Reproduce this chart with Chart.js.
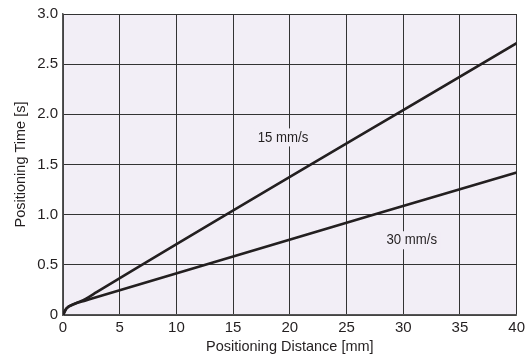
<!DOCTYPE html>
<html>
<head>
<meta charset="utf-8">
<script src="https://cdn.jsdelivr.net/npm/chart.js@4"></script>
<style>
  html, body { margin: 0; padding: 0; background: #fff; }
  #wrap { width: 529px; height: 361px; }
</style>
</head>
<body>
<div id="wrap"><canvas id="chart" width="529" height="361"></canvas></div>
<script>
// distance [mm] / time [s]
const dist15 = [0, 0.3, 1, 2, 3, 40];
const time15 = [0, 0.065, 0.11, 0.16, 0.23, 2.71];
const dist30 = [0, 0.3, 1, 2, 3, 40];
const time30 = [0, 0.065, 0.11, 0.145, 0.18, 1.42];

const xTicks = [0, 5, 10, 15, 20, 25, 30, 35, 40];
const yTicks = ['0', '0.5', '1.0', '1.5', '2.0', '2.5', '3.0'];

const lineLabels = [
  { text: '15 mm/s', x: 19.4, y: 1.77 },
  { text: '30 mm/s', x: 30.75, y: 0.745 }
];

const ink = '#231f20';
const fontFam = '"Liberation Sans", Arial, sans-serif';

const toPoints = (xs, ys) => xs.map((x, i) => ({ x: x, y: ys[i] }));

const plotBg = {
  id: 'plotBg',
  beforeDraw(chart) {
    const { ctx, chartArea: a } = chart;
    ctx.save();
    ctx.fillStyle = '#f2eef6';
    ctx.fillRect(a.left, a.top, a.right - a.left, a.bottom - a.top);
    ctx.restore();
  }
};

// the curve names sit on a patch of plot colour, hiding the grid behind them
const curveLabels = {
  id: 'curveLabels',
  afterDatasetsDraw(chart) {
    const { ctx, scales } = chart;
    ctx.save();
    ctx.font = '15px ' + fontFam;
    ctx.textBaseline = 'middle';
    lineLabels.forEach(l => {
      const px = scales.x.getPixelForValue(l.x);
      const py = scales.y.getPixelForValue(l.y);
      const w = ctx.measureText(l.text).width * 0.88;
      ctx.fillStyle = '#f2eef6';
      ctx.fillRect(px - w / 2 - 3, py - 9, w + 6, 18);
      ctx.fillStyle = ink;
      ctx.save();
      ctx.translate(px - w / 2, py);
      ctx.scale(0.88, 1);
      ctx.fillText(l.text, 0, 0);
      ctx.restore();
    });
    ctx.restore();
  }
};

new Chart(document.getElementById('chart'), {
  type: 'scatter',
  data: {
    datasets: [
      { label: '15 mm/s', data: toPoints(dist15, time15) },
      { label: '30 mm/s', data: toPoints(dist30, time30) }
    ].map(d => Object.assign(d, {
      showLine: true,
      borderColor: ink,
      borderWidth: 2.6,
      pointRadius: 0,
      cubicInterpolationMode: 'monotone'
    }))
  },
  options: {
    responsive: false,
    animation: false,
    layout: { padding: { top: 13, right: 12, left: 0, bottom: 0 } },
    plugins: { legend: { display: false }, tooltip: { enabled: false } },
    scales: {
      x: {
        type: 'linear',
        min: 0, max: 40,
        afterFit: s => { s.height = 46; },
        afterBuildTicks: s => { s.ticks = xTicks.map(v => ({ value: v })); },
        grid: { color: '#333', lineWidth: 1, drawTicks: false },
        border: { color: '#555', width: 1.5 },
        ticks: {
          color: ink, padding: 4,
          font: { family: fontFam, size: 15 },
          maxRotation: 0
        },
        title: {
          display: true, text: 'Positioning Distance [mm]', color: ink,
          font: { family: fontFam, size: 14.5 }, padding: { top: 0, bottom: 5 }
        }
      },
      y: {
        type: 'linear',
        min: 0, max: 3,
        afterFit: s => { s.width = 63; },
        afterBuildTicks: s => { s.ticks = yTicks.map(t => ({ value: parseFloat(t) })); },
        grid: { color: '#333', lineWidth: 1, drawTicks: false },
        border: { color: '#555', width: 1.5 },
        ticks: {
          color: ink, padding: 5,
          font: { family: fontFam, size: 15 },
          callback: (v, i) => yTicks[i]
        },
        title: {
          display: true, text: 'Positioning Time [s]', color: ink,
          font: { family: fontFam, size: 14.5 }, padding: { top: 12, bottom: 0 }
        }
      }
    }
  },
  plugins: [plotBg, curveLabels]
});
</script>
</body>
</html>
